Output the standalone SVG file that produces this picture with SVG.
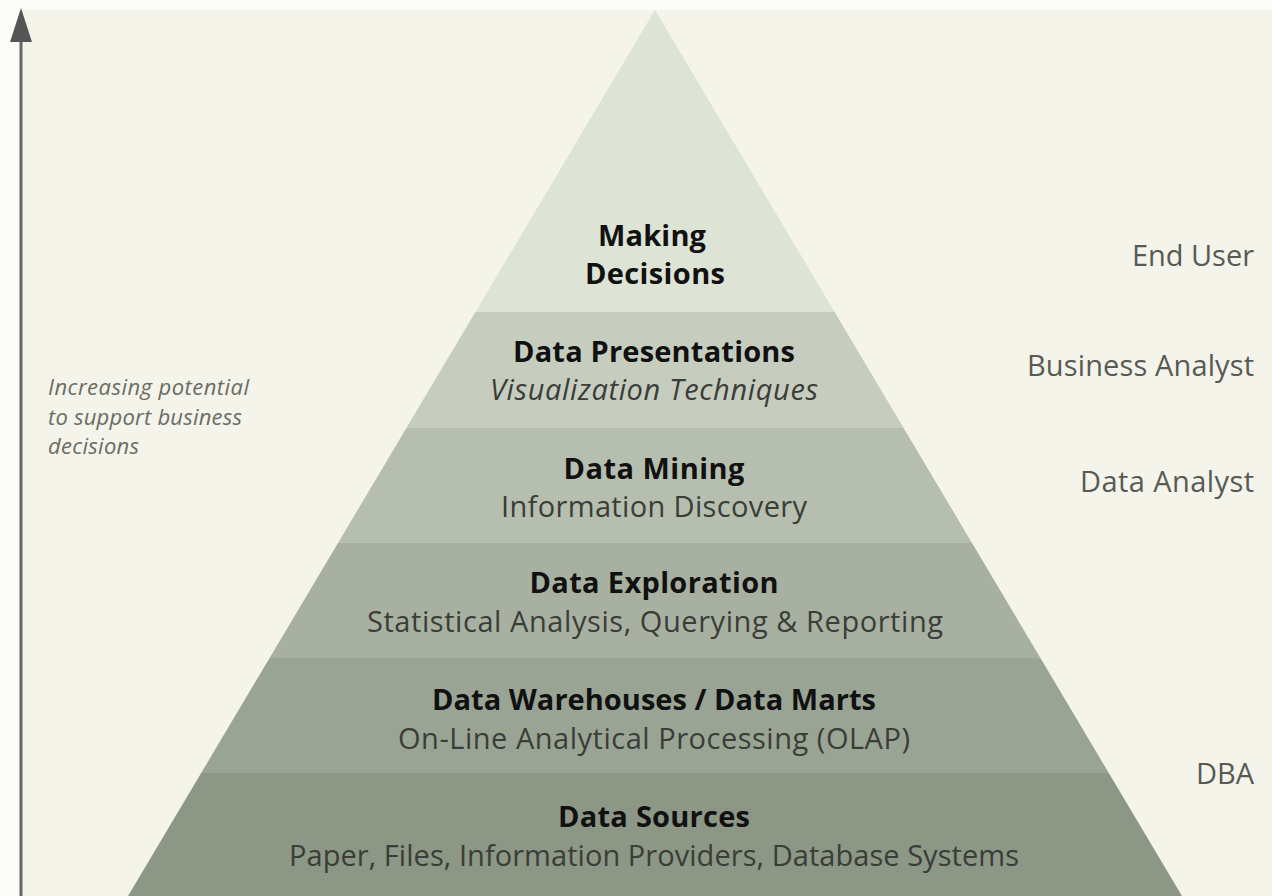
<svg xmlns="http://www.w3.org/2000/svg" width="1272" height="896" viewBox="0 0 1272 896">
<defs>
<style>
.t{font-family:"Open Sans","Noto Sans","Liberation Sans",sans-serif;font-weight:700;font-size:29px;fill:#111;text-anchor:middle}
.s{font-family:"Open Sans","Noto Sans","Liberation Sans",sans-serif;font-size:29px;fill:#3a3d38;text-anchor:middle}
.r{font-family:"Open Sans","Noto Sans","Liberation Sans",sans-serif;font-size:29px;fill:#585a55;text-anchor:end}
.l{font-family:"Open Sans","Noto Sans","Liberation Sans",sans-serif;font-style:italic;font-size:22px;fill:#6a6c66}
</style>
</defs>
<rect x="0" y="0" width="1272" height="896" fill="#fbfbf7"/>
<rect x="20" y="10" width="1252" height="886" fill="#f4f4ea"/>
<g id="axis">
<line x1="21" y1="38" x2="21" y2="896" stroke="#666" stroke-width="3"/>
<polygon points="21,8 10,42 32,42" fill="#555"/>
</g>
<g id="band-making-decisions">
<polygon points="655,10 834.6,312 475.4,312" fill="#dde4d5"/>
<text class="t" x="652" y="246" textLength="108">Making</text>
<text class="t" x="655" y="284" textLength="140">Decisions</text>
</g>
<g id="band-data-presentations">
<polygon points="475.4,312 834.6,312 903.6,428 406.4,428" fill="#c6cdbf"/>
<text class="t" x="654" y="362" textLength="282">Data Presentations</text>
<text class="s" x="654" y="400" font-style="italic" textLength="328">Visualization Techniques</text>
</g>
<g id="band-data-mining">
<polygon points="406.4,428 903.6,428 972,543 338,543" fill="#b6beaf"/>
<text class="t" x="654" y="479" textLength="181">Data Mining</text>
<text class="s" x="654" y="517" textLength="306">Information Discovery</text>
</g>
<g id="band-data-exploration">
<polygon points="338,543 972,543 1040.4,658 269.6,658" fill="#a8b1a1"/>
<text class="t" x="654" y="593" textLength="249">Data Exploration</text>
<text class="s" x="655" y="632" textLength="576">Statistical Analysis, Querying &amp; Reporting</text>
</g>
<g id="band-data-warehouses">
<polygon points="269.6,658 1040.4,658 1108.8,773 201.2,773" fill="#9aa494"/>
<text class="t" x="654" y="710" textLength="444">Data Warehouses / Data Marts</text>
<text class="s" x="654" y="749" textLength="512">On-Line Analytical Processing (OLAP)</text>
</g>
<g id="band-data-sources">
<polygon points="201.2,773 1108.8,773 1182,896 128,896" fill="#8c9785"/>
<text class="t" x="654" y="827" textLength="192">Data Sources</text>
<text class="s" x="654" y="866" textLength="730">Paper, Files, Information Providers, Database Systems</text>
</g>
<g id="roles">
<text class="r" x="1254" y="266" textLength="122">End User</text>
<text class="r" x="1254" y="376" textLength="227">Business Analyst</text>
<text class="r" x="1254" y="492" textLength="174">Data Analyst</text>
<text class="r" x="1254" y="784" textLength="58">DBA</text>
</g>
<g id="axis-label">
<text class="l" x="48" y="395" textLength="201">Increasing potential</text>
<text class="l" x="48" y="425" textLength="194">to support business</text>
<text class="l" x="48" y="454" textLength="91">decisions</text>
</g>
</svg>
